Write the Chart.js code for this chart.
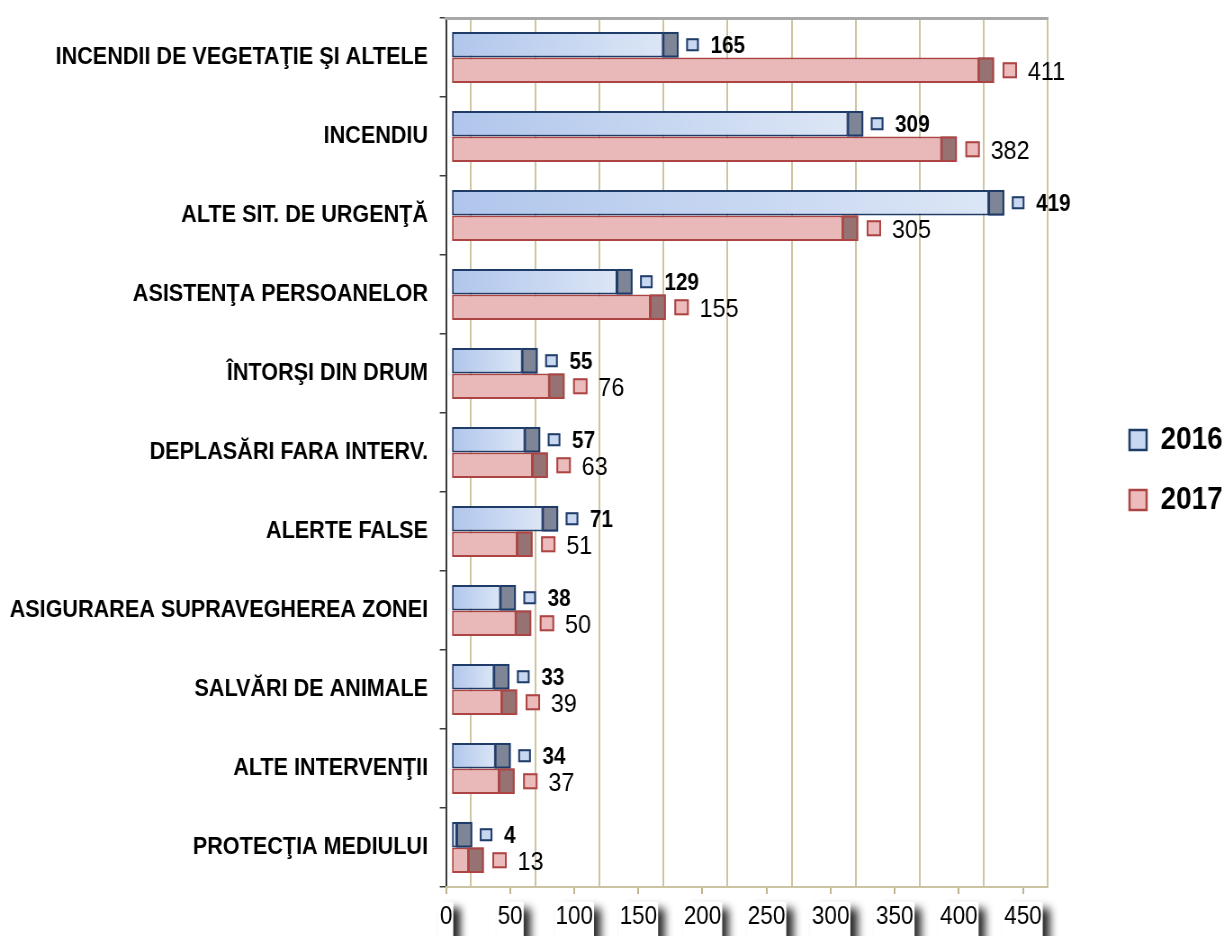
<!DOCTYPE html>
<html><head><meta charset="utf-8">
<script src="https://cdn.jsdelivr.net/npm/chart.js@4.4.1/dist/chart.umd.min.js"></script>
<style>
html,body{margin:0;padding:0;overflow:hidden;background:#fff;}
#wrap{width:1358px;height:936px;transform:scaleX(0.9);transform-origin:0 0;}
canvas{display:block;}
</style></head><body>
<div id="wrap"><canvas id="c" width="1358" height="936"></canvas></div>
<script>
const categories = [
  "INCENDII DE VEGETAŢIE ŞI ALTELE",
  "INCENDIU",
  "ALTE SIT. DE URGENŢĂ",
  "ASISTENŢA PERSOANELOR",
  "ÎNTORŞI DIN DRUM",
  "DEPLASĂRI FARA INTERV.",
  "ALERTE FALSE",
  "ASIGURAREA SUPRAVEGHEREA ZONEI",
  "SALVĂRI DE ANIMALE",
  "ALTE INTERVENŢII",
  "PROTECŢIA MEDIULUI"
];
const values2016 = [165, 309, 419, 129, 55, 57, 71, 38, 33, 34, 4];
const values2017 = [411, 382, 305, 155, 76, 63, 51, 50, 39, 37, 13];
const seriesLabels = ["2016", "2017"];
const xTickValues = [0, 50, 100, 150, 200, 250, 300, 350, 400, 450];

Chart.defaults.font.family = "'Liberation Sans', Arial, sans-serif";
Chart.defaults.color = '#000';

const CAP = 17.8;
const seriesStyle = [
  {cap:'#7e8597', marker:'#c9d8f1', mw:14, mh:13, gap:7.4, tgap:13, font:"bold 23px 'Liberation Sans', Arial, sans-serif", dy:2},
  {cap:'#977272', marker:'#ecbcbc', mw:16, mh:16, gap:8.5, tgap:12, font:"26px 'Liberation Sans', Arial, sans-serif", dy:3}
];

function blueGrad(c) {
  const chart = c.chart, sx = chart.scales.x;
  if (c.type !== 'data' || !sx) return '#c5d5f0';
  const x0 = sx.getPixelForValue(0), x1 = sx.getPixelForValue(c.raw);
  const g = chart.ctx.createLinearGradient(x0, 0, Math.max(x1, x0 + 1), 0);
  g.addColorStop(0, '#b0c6ec');
  g.addColorStop(1, '#dce6f6');
  return g;
}

const tickShadow = {
  id: 'tickShadow',
  beforeDraw(chart) {
    const s = chart.scales.xt; if (!s) return;
    const ctx = chart.ctx;
    const items = s.getLabelItems();
    ctx.save();
    items.forEach(it => {
      ctx.font = it.font.string;
      ctx.textAlign = it.options.textAlign;
      ctx.textBaseline = it.options.textBaseline;
      const m = ctx.measureText(String(it.label));
      const tx = it.options.translation[0], ty = it.options.translation[1] + it.textOffset;
      const left = tx - m.actualBoundingBoxLeft, right = tx + m.actualBoundingBoxRight;
      const top = ty - m.actualBoundingBoxAscent;
      ctx.shadowColor = 'rgba(0,0,0,0.85)';
      ctx.shadowBlur = 9; ctx.shadowOffsetX = 8; ctx.shadowOffsetY = 6;
      ctx.fillStyle = '#fff';
      ctx.fillRect(left - 2, top - 4, right - left + 4, 60);
    });
    ctx.restore();
  }
};

const capsAndLabels = {
  id: 'capsAndLabels',
  afterDatasetsDraw(chart) {
    const ctx = chart.ctx;
    chart.data.datasets.forEach((ds, di) => {
      const meta = chart.getDatasetMeta(di);
      const st = seriesStyle[di];
      meta.data.forEach((bar, i) => {
        const p = bar.getProps(['x', 'y', 'height'], true);
        const top = p.y - p.height / 2;
        ctx.save();
        ctx.fillStyle = st.cap;
        ctx.fillRect(p.x - 1, top, CAP, p.height);
        ctx.strokeStyle = ds.borderColor; ctx.lineWidth = 2;
        ctx.strokeRect(p.x, top + 1, CAP - 2, p.height - 2);
        const mx = p.x + CAP + st.gap;
        ctx.fillStyle = st.marker;
        ctx.fillRect(mx, p.y - st.mh / 2, st.mw, st.mh);
        ctx.strokeRect(mx + 1, p.y - st.mh / 2 + 1, st.mw - 2, st.mh - 2);
        ctx.fillStyle = '#000'; ctx.font = st.font;
        ctx.textBaseline = 'middle'; ctx.textAlign = 'left';
        ctx.fillText(String(ds.data[i]), mx + st.mw + st.tgap, p.y + st.dy);
        ctx.restore();
      });
    });
  }
};

const setTicks = s => { s.ticks = xTickValues.map(v => ({value: v})); };

new Chart(document.getElementById('c'), {
  type: 'bar',
  data: {
    labels: categories,
    datasets: [
      {label: seriesLabels[0], data: values2016, xAxisID: 'x', yAxisID: 'y',
       backgroundColor: blueGrad, borderColor: '#1f3b68', borderWidth: 2, borderSkipped: false},
      {label: seriesLabels[1], data: values2017, xAxisID: 'x', yAxisID: 'y',
       backgroundColor: '#e9b8b8', borderColor: '#ad4444', borderWidth: 2, borderSkipped: false}
    ]
  },
  options: {
    indexAxis: 'y', responsive: false, animation: false, devicePixelRatio: 1,
    categoryPercentage: 0.646, barPercentage: 1,
    layout: {padding: {top: 18, left: 0, right: 0, bottom: 0}},
    plugins: {
      tooltip: {enabled: false},
      legend: {
        position: 'right', align: 'center', maxWidth: 132, fullSize: false,
        title: {display: true, text: '', font: {size: 10}, padding: 11.5},
        labels: {
          boxWidth: 19, boxHeight: 20, padding: 29, color: '#000',
          font: {size: 31, weight: 'bold'},
          generateLabels: chart => chart.data.datasets.map((ds, i) => ({
            text: ds.label, fillStyle: seriesStyle[i].marker, strokeStyle: ds.borderColor,
            lineWidth: 2.5, hidden: false, datasetIndex: i, fontColor: '#000'
          }))
        }
      }
    },
    scales: {
      y: {
        type: 'category', position: 'left', offset: true,
        ticks: {font: {size: 24, weight: 'bold'}, color: '#000', padding: 13, autoSkip: false},
        grid: {drawOnChartArea: false, tickLength: 7, color: '#3c3c3c', lineWidth: 1.5, offset: true},
        border: {color: '#3c3c3c', width: 2},
        afterFit: s => { s.width = 495.6; s.paddingTop = 0; s.paddingBottom = 0; }
      },
      x: {type: 'linear', position: 'bottom', display: false, min: -4.63, max: 464.87},
      xt: {
        type: 'linear', position: 'bottom', min: 0, max: 469.5,
        afterBuildTicks: setTicks,
        ticks: {font: {size: 25}, color: '#000', padding: 8, maxRotation: 0, autoSkip: false},
        grid: {drawOnChartArea: false, tickLength: 7, color: '#bdb590', lineWidth: 2},
        border: {color: '#cbc4a2', width: 2},
        afterFit: s => { s.height = 49; s.paddingLeft = 0; s.paddingRight = 0; }
      },
      xg: {
        type: 'linear', position: 'top', min: -19.5, max: 450,
        afterBuildTicks: setTicks,
        ticks: {display: false},
        grid: {color: '#cdc5a0', lineWidth: 2, drawTicks: false},
        border: {color: '#a8a8a8', width: 3},
        afterFit: s => { s.height = 0; s.paddingLeft = 0; s.paddingRight = 0; }
      },
      sp: {
        type: 'linear', position: 'right',
        ticks: {display: false}, grid: {display: false}, border: {display: false},
        afterFit: s => { s.width = 61.6; s.paddingTop = 0; s.paddingBottom = 0; }
      }
    }
  },
  plugins: [tickShadow, capsAndLabels]
});
</script>
</body></html>
